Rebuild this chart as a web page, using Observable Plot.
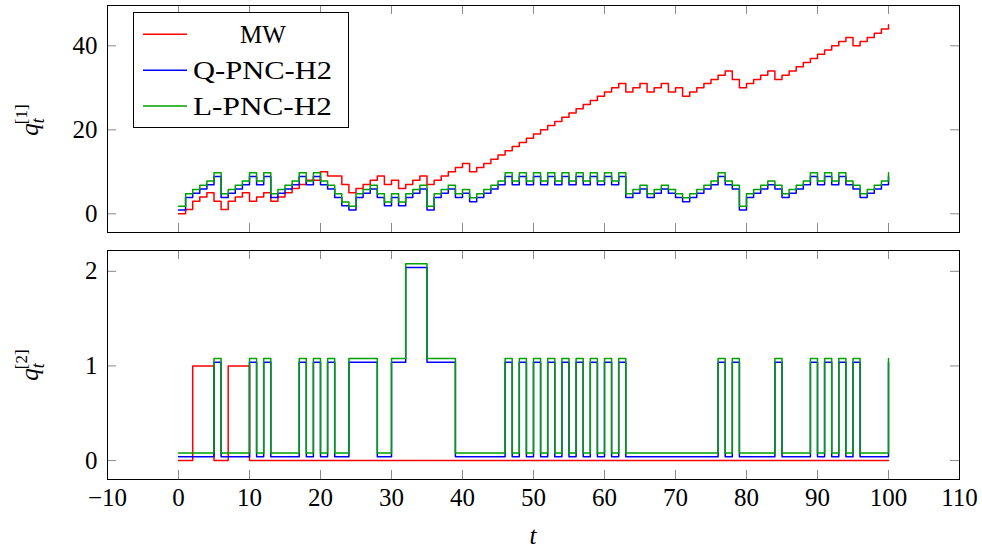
<!DOCTYPE html>
<html><head><meta charset="utf-8">
<script src="https://cdn.jsdelivr.net/npm/d3@7"></script>
<script src="https://cdn.jsdelivr.net/npm/@observablehq/plot@0.6"></script>
<style>
html,body{margin:0;padding:0;background:#fff;}
#wrap{position:relative;width:982px;height:551px;overflow:hidden;font-family:"Liberation Serif",serif;}
#wrap svg{position:absolute;left:0;}
#wrap svg text{font-family:"Liberation Serif",serif;}
</style></head><body><div id="wrap"></div>
<script>
// ---- data ----
const seriesNames = ["MW", "Q-PNC-H2", "L-PNC-H2"];
const seriesColors = ["#ff0000", "#0000ff", "#00a000"];

// queue 1 length per time step t = 0..100
const mw1 = [0,1,3,4,5,3,1,3,4,5, 3,4,5,3,4,5,6,7,8,8, 10,9,9,7,5,6,7,8,9,7,
  8,6,7,8,9,7,8,9,10,11, 12,10,11,12,13,14,15,16,17,18, 19,20,21,22,23,24,25,26,27,28,
  29,30,31,29,30,31,29,30,31,29, 30,28,29,30,31,32,33,34,32,30, 31,32,33,34,32,33,34,35,36,37,
  38,39,40,41,42,40,41,42,43,44, 45];
const qpnc1 = [0,3,4,5,6,8,3,4,5,6, 8,6,8,3,4,5,6,8,6,8, 6,5,3,1,0,3,4,5,3,1,
  3,1,3,4,5,0,3,4,5,3, 4,2,3,4,5,6,8,6,8,6, 8,6,8,6,8,6,8,6,8,6,
  8,6,8,3,4,5,3,4,5,4, 3,2,3,4,5,6,8,6,5,0, 3,4,5,6,5,3,4,5,6,8,
  6,8,6,8,6,5,3,4,5,6, 8];
const lpnc1 = [0,3,4,5,6,8,3,4,5,6, 8,6,8,3,4,5,6,8,6,8, 6,5,3,1,0,3,4,5,3,1,
  3,1,3,4,5,0,3,4,5,3, 4,2,3,4,5,6,8,6,8,6, 8,6,8,6,8,6,8,6,8,6,
  8,6,8,3,4,5,3,4,5,4, 3,2,3,4,5,6,8,6,5,0, 3,4,5,6,5,3,4,5,6,8,
  6,8,6,8,6,5,3,4,5,6, 8];

// queue 2 length per time step
const mw2 = [0,0,1,1,1,0,0,1,1,1, 0,0,0,0,0,0,0,0,0,0, 0,0,0,0,0,0,0,0,0,0,
  0,0,0,0,0,0,0,0,0,0, 0,0,0,0,0,0,0,0,0,0, 0,0,0,0,0,0,0,0,0,0,
  0,0,0,0,0,0,0,0,0,0, 0,0,0,0,0,0,0,0,0,0, 0,0,0,0,0,0,0,0,0,0,
  0,0,0,0,0,0,0,0,0,0, 0];
const qpnc2 = [0,0,0,0,0,1,0,0,0,0, 1,0,1,0,0,0,0,1,0,1, 0,1,0,0,1,1,1,1,0,0,
  1,1,2,2,2,1,1,1,1,0, 0,0,0,0,0,0,1,0,1,0, 1,0,1,0,1,0,1,0,1,0,
  1,0,1,0,0,0,0,0,0,0, 0,0,0,0,0,0,1,0,1,0, 0,0,0,0,1,0,0,0,0,1,
  0,1,0,1,0,1,0,0,0,0, 1];
const lpnc2 = [0,0,0,0,0,1,0,0,0,0, 1,0,1,0,0,0,0,1,0,1, 0,1,0,0,1,1,1,1,0,0,
  1,1,2,2,2,1,1,1,1,0, 0,0,0,0,0,0,1,0,1,0, 1,0,1,0,1,0,1,0,1,0,
  1,0,1,0,0,0,0,0,0,0, 0,0,0,0,0,0,1,0,1,0, 0,0,0,0,1,0,0,0,0,1,
  0,1,0,1,0,1,0,0,0,0, 1];

// small vertical display shifts so the overlapping curves stay visible
const shift1 = [0, 0.9, 1.8];
const shift2 = [0, 0.04, 0.08];

const xTicks = [-10,0,10,20,30,40,50,60,70,80,90,100,110];
const yTicks1 = [0,20,40];
const yTicks2 = [0,1,2];

// ---- layout ----
const FONT = '"Liberation Serif", serif';
const W = 982, ML = 107, MR = 23;
const FW = W - ML - MR;
const TICK = "#8a8a8a", TL = 9;
const fmt = d => d < 0 ? "\u2212" + Math.abs(d) : String(d);

function panel({height, mt, mb, ydom, yTicks, series, shifts, xAxis}) {
  const FH = height - mt - mb;
  const marks = [
    Plot.ruleX(xTicks, {x: d => d, insetTop: FH - TL, stroke: TICK}),
    Plot.ruleX(xTicks, {x: d => d, insetBottom: FH - TL, stroke: TICK}),
    Plot.ruleY(yTicks, {y: d => d, insetRight: FW - TL, stroke: TICK}),
    Plot.ruleY(yTicks, {y: d => d, insetLeft: FW - TL, stroke: TICK}),
    Plot.axisY(yTicks, {anchor: "left", tickSize: 0, tickPadding: 10, label: null, tickFormat: fmt, fontSize: 25}),
  ];
  if (xAxis) marks.push(Plot.axisX(xTicks, {anchor: "bottom", tickSize: 0, tickPadding: 9, label: null, tickFormat: fmt, fontSize: 25}));
  series.forEach((s, k) => {
    marks.push(Plot.line(s, {x: (d, i) => i, y: d => d + shifts[k], stroke: seriesColors[k], strokeWidth: 1.5, curve: "step-after"}));
  });
  marks.push(Plot.frame({stroke: "black", strokeWidth: 1}));
  return Plot.plot({
    width: W, height, marginLeft: ML, marginRight: MR, marginTop: mt, marginBottom: mb,
    style: {fontFamily: FONT, fontSize: "25px", background: "transparent", color: "black", overflow: "visible"},
    x: {domain: [-10, 110], axis: null},
    y: {domain: ydom, axis: null},
    marks
  });
}

const wrap = document.getElementById("wrap");
const top1 = panel({height: 240, mt: 5, mb: 8, ydom: [-4.45, 49.6], yTicks: yTicks1,
  series: [mw1, qpnc1, lpnc1], shifts: shift1, xAxis: false});
top1.style.top = "0px";
wrap.appendChild(top1);
const bot = panel({height: 311, mt: 10, mb: 72, ydom: [-0.2, 2.22], yTicks: yTicks2,
  series: [mw2, qpnc2, lpnc2], shifts: shift2, xAxis: true});
bot.style.top = "240px";
wrap.appendChild(bot);

// ---- labels + legend overlay ----
const ns = "http://www.w3.org/2000/svg";
const ov = document.createElementNS(ns, "svg");
ov.setAttribute("width", W); ov.setAttribute("height", 551);
ov.style.top = "0px"; ov.style.fontFamily = FONT;
function qLabel(cy, idx) {
  return `<text transform="translate(38,${cy}) rotate(-90)" text-anchor="middle" font-size="25">`+
    `<tspan font-style="italic">q</tspan>`+
    `<tspan font-style="italic" font-size="18" dy="6">t</tspan>`+
    `<tspan font-size="17" dx="-6" dy="-17">[${idx}]</tspan></text>`;
}
let legend = `<rect x="133.5" y="12.5" width="215" height="115" fill="white" stroke="black" stroke-width="1"/>`;
const rowsY = [34.3, 70.3, 106];
seriesNames.forEach((n, k) => {
  legend += `<line x1="143" x2="187" y1="${rowsY[k]}" y2="${rowsY[k]}" stroke="${seriesColors[k]}" stroke-width="1.5"/>`;
  if (k === 0) legend += `<text x="263" y="${rowsY[k] + 8.5}" text-anchor="middle" font-size="25">${n}</text>`;
  else legend += `<text x="193" y="${rowsY[k] + 8.5}" font-size="25" textLength="139" lengthAdjust="spacingAndGlyphs">${n}</text>`;
});
ov.innerHTML = qLabel(120, 1) + qLabel(365, 2) +
  `<text x="533" y="544" text-anchor="middle" font-size="25" font-style="italic">t</text>` + legend;
wrap.appendChild(ov);
</script></body></html>
